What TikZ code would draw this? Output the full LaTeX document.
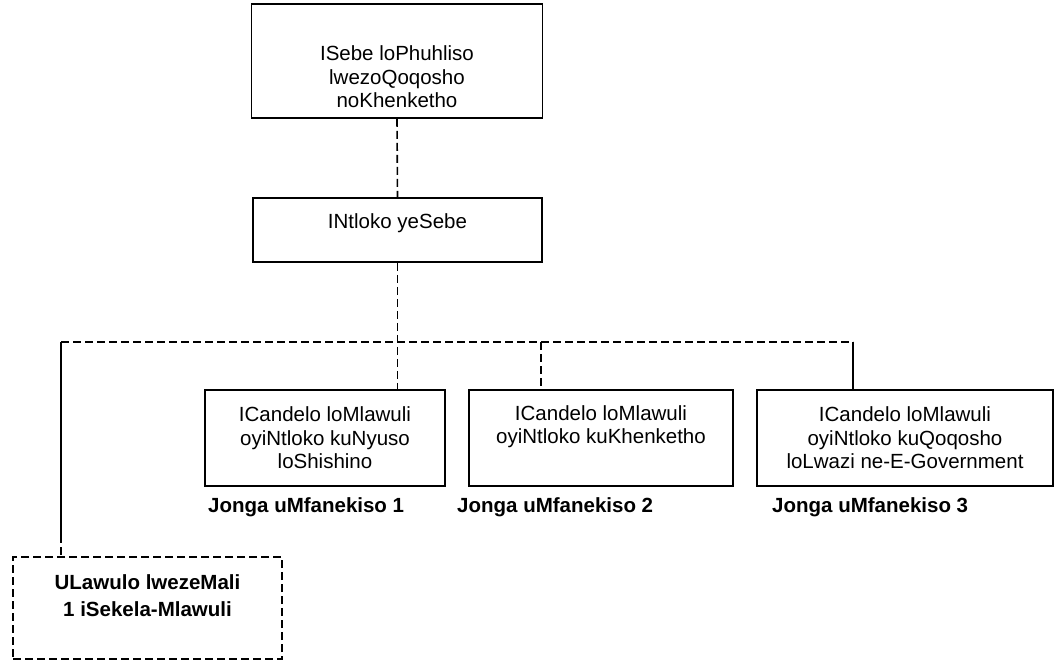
\documentclass[tikz,border=0pt]{standalone}
\usepackage{fontspec}
\setmainfont{Liberation Sans}
\begin{document}
\begin{tikzpicture}[x=1pt,y=-1pt,
  box/.style={draw=black, line width=1.6pt, rectangle, inner sep=0pt},
  dbox/.style={box, dash pattern=on 8pt off 4pt},
  txt/.style={align=center, inner sep=0pt, font=\fontsize{20.5}{23.5}\selectfont},
  btxt/.style={txt, font=\fontsize{20.5}{27}\selectfont\bfseries},
  conn/.style={draw=black, line width=1.6pt},
  dconn/.style={conn, dash pattern=on 8pt off 4pt}]
\useasboundingbox (0,0) rectangle (1055,663);
% boxes
\node[box, minimum width=291pt, minimum height=114pt] (top) at (397,61) {};
\node[txt] (toptxt) at (397,77) {ISebe loPhuhliso\\lwezoQoqosho\\noKhenketho};
\node[box, minimum width=289pt, minimum height=64pt] (head) at (397.5,230) {};
\node[txt] (headtxt) at (397.5,223) {INtloko yeSebe};
\node[box, minimum width=240pt, minimum height=96pt] (c1) at (325,438) {};
\node[txt] (c1txt) at (325,438) {ICandelo loMlawuli\\oyiNtloko kuNyuso\\loShishino};
\node[box, minimum width=264pt, minimum height=96pt] (c2) at (601,438) {};
\node[txt] (c2txt) at (601,426.5) {ICandelo loMlawuli\\oyiNtloko kuKhenketho};
\node[box, minimum width=296pt, minimum height=96pt] (c3) at (905,438) {};
\node[txt] (c3txt) at (905,438) {ICandelo loMlawuli\\oyiNtloko kuQoqosho\\loLwazi ne-E-Government};
\node[dbox, minimum width=269pt, minimum height=102pt] (fin) at (147.5,608) {};
\node[btxt] (fintxt) at (147.5,596) {ULawulo lwezeMali\\1 iSekela-Mlawuli};
% labels
\node[btxt, anchor=west] (l1) at (208,507) {Jonga uMfanekiso 1};
\node[btxt, anchor=west] (l2) at (457,507) {Jonga uMfanekiso 2};
\node[btxt, anchor=west] (l3) at (772,507) {Jonga uMfanekiso 3};
% connectors
\coordinate (hL) at (61,342);
\coordinate (hR) at (853,342);
\coordinate (v2) at (541,342);
\coordinate (lbreak) at (61,535);
\draw[dconn] (top.south) -- (head.north);
\draw[dconn] (head.south) -- (head.south |- c1.north);
\draw[dconn] (hL) -- (hR);
\draw[dconn] (v2) -- (v2 |- c2.north);
\draw[conn] (hR) -- (hR |- c3.north);
\draw[conn] (hL) -- (lbreak);
\draw[dconn] (lbreak) -- (lbreak |- fin.north);
\end{tikzpicture}
\end{document}
